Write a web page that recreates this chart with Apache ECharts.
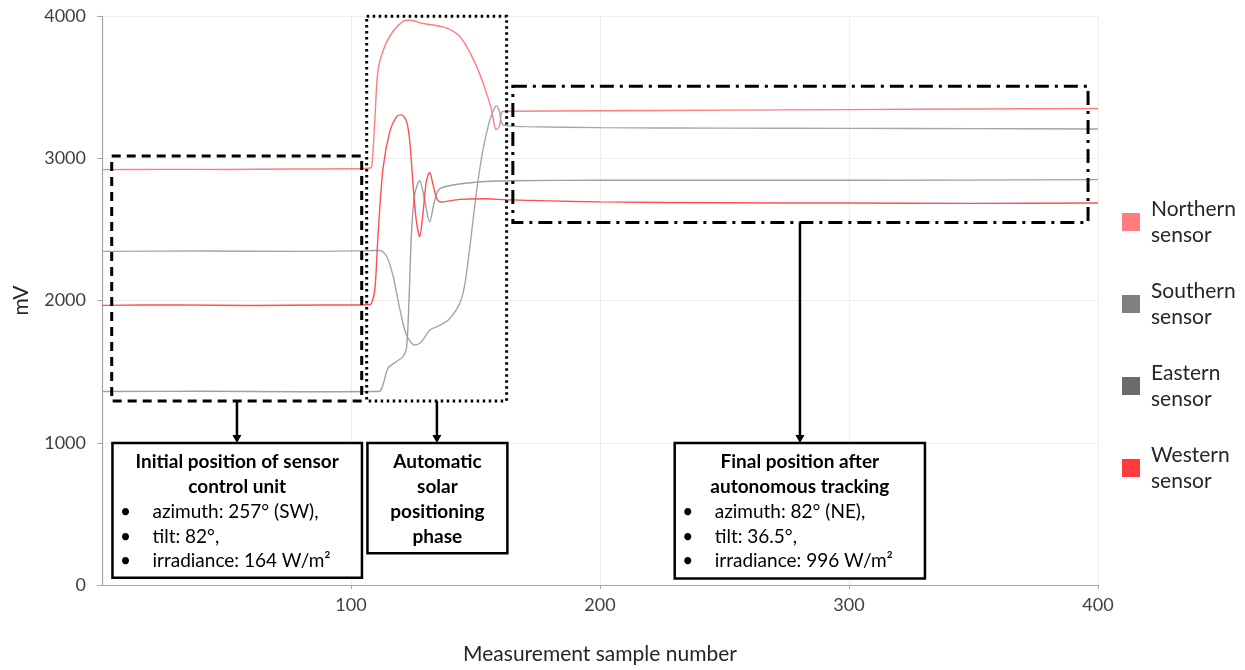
<!DOCTYPE html>
<html>
<head>
<meta charset="utf-8">
<script src="https://cdn.jsdelivr.net/npm/echarts@6/dist/echarts.min.js"></script>
<style>
  html, body { margin: 0; padding: 0; background: #fff; }
  #main { width: 1245px; height: 670px; }
</style>
</head>
<body>
<div id="main"></div>
<script>
// sensor readings [sample number, mV]
var northern = [[0,2920],[25,2922],[50,2921],[75,2924],[100,2926],[107,2930],[108.3,2941],[109.6,3278],[110.9,3625],[113.6,3789],[116.9,3893],[120.9,3962],[123.6,3970],[129,3947],[136.9,3923],[142.9,3870],[146.3,3790],[150.3,3651],[153.6,3500],[156.3,3351],[158.3,3201],[159.6,3224],[160.7,3328],[163,3330],[200,3334],[250,3338],[300,3342],[350,3346],[400,3350]];
var southern = [[0,2345],[40,2348],[80,2345],[107,2350],[111.6,2352],[114.3,2311],[116.9,2172],[119.6,1941],[122.3,1756],[125.6,1687],[128.3,1710],[131.6,1791],[135.6,1825],[139.6,1872],[143.6,1976],[145.6,2103],[147.6,2357],[150.3,2750],[152.9,3050],[155.6,3259],[157.6,3351],[158.3,3370],[159.6,3328],[160.3,3259],[161.6,3231],[170,3222],[200,3215],[250,3212],[300,3210],[350,3208],[400,3206]];
var eastern = [[0,1360],[40,1362],[80,1358],[110,1360],[111.6,1362],[112.9,1410],[114.9,1525],[118.3,1571],[120.9,1606],[122.3,1664],[123.3,2010],[124.3,2472],[125.6,2750],[127.6,2842],[129.6,2703],[131.6,2554],[133.6,2703],[135.6,2785],[143.6,2819],[154.3,2837],[165,2842],[200,2845],[300,2845],[400,2850]];
var western = [[0,1966],[30,1969],[60,1965],[90,1968],[107,1970],[108.3,1983],[109.6,2080],[110.9,2472],[112.9,2934],[115.6,3189],[118.3,3293],[120.3,3305],[122.3,3259],[123.6,3120],[124.9,2819],[126.2,2565],[127.6,2450],[128.9,2613],[130.3,2842],[131.6,2900],[132.9,2819],[134.5,2715],[136.2,2692],[143.6,2711],[154.3,2715],[162.3,2708],[180,2700],[200,2693],[250,2687],[300,2685],[350,2683],[400,2685]];

var seriesNames = ['Northern sensor', 'Southern sensor', 'Eastern sensor', 'Western sensor'];
var legendColors = ['#FF7C80', '#808080', '#6B6B6B', '#FF3B3B'];
var lineColors = ['#FF7C80', '#A6A6A6', '#A0A0A0', '#FF5050'];
var allData = [northern, southern, eastern, western];

var fontName = 'Lato';

var chart = echarts.init(document.getElementById('main'));

var series = [];
for (var i = 0; i < seriesNames.length; i++) {
    series.push({
        name: seriesNames[i],
        type: 'line',
        data: allData[i],
        showSymbol: false,
        smooth: 0.3,
        itemStyle: { color: legendColors[i] },
        lineStyle: { color: lineColors[i], width: 1.4 },
        z: 2
    });
}

var option = {
    animation: false,
    backgroundColor: '#fff',
    grid: { left: 102, right: 147, top: 16, bottom: 80 },
    legend: {
        orient: 'vertical',
        left: 1122,
        top: 196,
        padding: 0,
        icon: 'rect',
        itemWidth: 18,
        itemHeight: 18,
        itemGap: 30,
        formatter: function (name) { return name.replace(' ', '\n'); },
        textStyle: { fontFamily: fontName, fontSize: 21, lineHeight: 26, color: '#262626', padding: [0, 0, 0, 6] },
        data: seriesNames.map(function (n, i) { return { name: n, itemStyle: { color: legendColors[i] } }; })
    },
    xAxis: {
        type: 'value',
        min: 0,
        max: 400,
        interval: 100,
        name: 'Measurement sample number',
        nameLocation: 'middle',
        nameGap: 59,
        nameTextStyle: { fontFamily: fontName, fontSize: 21, color: '#262626' },
        axisLine: { lineStyle: { color: '#A6A6A6', width: 1.2 } },
        axisTick: { show: true, length: 4, lineStyle: { color: '#A6A6A6' } },
        axisLabel: { showMinLabel: false, fontFamily: fontName, fontSize: 18, color: '#404040', margin: 11 },
        splitLine: { show: true, lineStyle: { color: '#EEEEEE' } }
    },
    yAxis: {
        type: 'value',
        min: 0,
        max: 4000,
        interval: 1000,
        name: 'mV',
        nameLocation: 'middle',
        nameGap: 70,
        nameTextStyle: { fontFamily: fontName, fontSize: 21, color: '#262626' },
        axisLine: { show: true, lineStyle: { color: '#A6A6A6', width: 1.2 } },
        axisTick: { show: true, length: 5, lineStyle: { color: '#A6A6A6' } },
        axisLabel: { fontFamily: fontName, fontSize: 18, color: '#404040', margin: 16, formatter: function (v) { return String(v); } },
        splitLine: { show: true, lineStyle: { color: '#EEEEEE' } }
    },
    series: series
};
chart.setOption(option);

// annotation layout in data units (sample number, mV)
var frames = [
    { x0: 3.9, x1: 104.3, y0: 1294, y1: 3016, dash: [9, 6] },
    { x0: 106.3, x1: 162.5, y0: 1294, y1: 3998, dash: [2.5, 3.5] },
    { x0: 165, x1: 396, y0: 2549, y1: 3506, dash: [14, 6, 3, 6] }
];
var arrows = [
    { x: 54.2, from: 1294, to: 998 },
    { x: 134.5, from: 1294, to: 998 },
    { x: 280.3, from: 2549, to: 998 }
];
var boxes = [
    { x0: 4.2, x1: 104.4, y0: 51, y1: 998,
      title: ['Initial position of sensor', 'control unit'],
      bullets: ['azimuth: 257° (SW),', 'tilt: 82°,', 'irradiance: 164 W/m²'] },
    { x0: 106.6, x1: 162.8, y0: 224, y1: 998,
      title: ['Automatic', 'solar', 'positioning', 'phase'],
      bullets: [] },
    { x0: 230, x1: 330.5, y0: 45, y1: 998,
      title: ['Final position after', 'autonomous tracking'],
      bullets: ['azimuth: 82° (NE),', 'tilt: 36.5°,', 'irradiance: 996 W/m²'] }
];

function toPx(x, y) {
    return chart.convertToPixel({ gridIndex: 0 }, [x, y]);
}

var elements = [];
frames.forEach(function (f) {
    var a = toPx(f.x0, f.y1), b = toPx(f.x1, f.y0);
    elements.push({
        type: 'rect',
        shape: { x: a[0], y: a[1], width: b[0] - a[0], height: b[1] - a[1] },
        style: { fill: null, stroke: '#000', lineWidth: 3, lineDash: f.dash },
        z: 10
    });
});
arrows.forEach(function (ar) {
    var a = toPx(ar.x, ar.from), b = toPx(ar.x, ar.to);
    elements.push({
        type: 'line',
        shape: { x1: a[0], y1: a[1], x2: b[0], y2: b[1] - 6 },
        style: { stroke: '#000', lineWidth: 2.5 },
        z: 10
    });
    elements.push({
        type: 'polygon',
        shape: { points: [[b[0] - 4.5, b[1] - 8], [b[0] + 4.5, b[1] - 8], [b[0], b[1]]] },
        style: { fill: '#000' },
        z: 10
    });
});
boxes.forEach(function (bx) {
    var a = toPx(bx.x0, bx.y1), b = toPx(bx.x1, bx.y0);
    elements.push({
        type: 'rect',
        shape: { x: a[0], y: a[1], width: b[0] - a[0], height: b[1] - a[1] },
        style: { fill: '#fff', stroke: '#000', lineWidth: 2.5 },
        z: 10
    });
    var cx = (a[0] + b[0]) / 2;
    var lineY = a[1] + 19;
    bx.title.forEach(function (t) {
        elements.push({
            type: 'text', x: cx, y: lineY, z: 11,
            style: { text: t, font: 'bold 19px ' + fontName, fill: '#000', align: 'center', verticalAlign: 'middle' }
        });
        lineY += 25;
    });
    bx.bullets.forEach(function (t) {
        elements.push({
            type: 'text', x: a[0] + 13, y: lineY, z: 11,
            style: { text: '•', font: '19px ' + fontName, fill: '#000', align: 'center', verticalAlign: 'middle' }
        });
        elements.push({
            type: 'text', x: a[0] + 40, y: lineY, z: 11,
            style: { text: t, font: '19px ' + fontName, fill: '#000', align: 'left', verticalAlign: 'middle' }
        });
        lineY += 24.5;
    });
});
chart.setOption({ graphic: elements });
</script>
</body>
</html>
